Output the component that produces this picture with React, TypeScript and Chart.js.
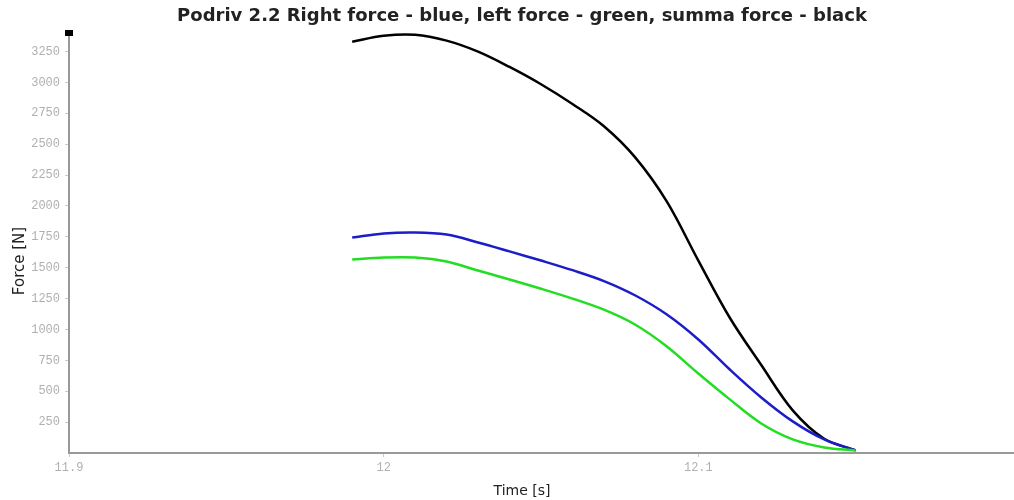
import React, { useEffect, useRef } from "react";
import { Chart, registerables } from "chart.js";

Chart.register(...registerables);

const times = [11.99, 12.0, 12.01, 12.02, 12.03, 12.04, 12.05, 12.06, 12.07, 12.08, 12.09, 12.1, 12.11, 12.12, 12.13, 12.14, 12.15];
const rightForce = [1744, 1777, 1785, 1768, 1704, 1632, 1558, 1480, 1392, 1275, 1121, 919, 676, 450, 256, 110, 21];
const leftForce = [1566, 1582, 1582, 1550, 1477, 1405, 1330, 1250, 1160, 1038, 862, 643, 434, 239, 110, 45, 21];
const summaForce = [3330, 3378, 3386, 3338, 3249, 3125, 2985, 2825, 2645, 2391, 2035, 1558, 1095, 712, 345, 115, 21];

const xTickValues = [11.9, 12.0, 12.1];
const xTickLabels = ["11.9", "12", "12.1"];
const yTickValues = [250, 500, 750, 1000, 1250, 1500, 1750, 2000, 2250, 2500, 2750, 3000, 3250];

const titleText = "Podriv 2.2 Right force - blue, left force - green, summa force - black";
const xTitle = "Time [s]";
const yTitle = "Force [N]";

const textPlugin = {
  id: "textPlugin",
  afterDraw(chart: any) {
    const ctx = chart.ctx;
    const a = chart.chartArea;
    ctx.save();
    ctx.fillStyle = "#000";
    ctx.fillRect(a.left - 4, a.top - 3, 8, 6);
    const cx = 522;
    ctx.fillStyle = "#222";
    ctx.textAlign = "center";
    ctx.textBaseline = "middle";
    ctx.font = "bold 18px 'DejaVu Sans', sans-serif";
    ctx.fillText(titleText, cx, 16);
    ctx.font = "14px 'DejaVu Sans', sans-serif";
    ctx.fillText(xTitle, cx, 491);
    ctx.translate(20, 261);
    ctx.rotate(-Math.PI / 2);
    ctx.font = "15px 'DejaVu Sans', sans-serif";
    ctx.fillText(yTitle, 0, 0);
    ctx.restore();
  },
};

export default function App() {
  const ref = useRef<HTMLCanvasElement | null>(null);
  useEffect(() => {
    if (!ref.current) return;
    const mk = (vals: number[]) => times.map((t, i) => ({ x: t, y: vals[i] }));
    const common = { pointRadius: 0, borderWidth: 2.5, tension: 0.35, fill: false };
    const chart = new Chart(ref.current, {
      type: "line",
      data: {
        datasets: [
          { label: "left", data: mk(leftForce), borderColor: "#22dd22", ...common },
          { label: "right", data: mk(rightForce), borderColor: "#1c1cc8", ...common },
          { label: "summa", data: mk(summaForce), borderColor: "#000000", ...common },
        ],
      },
      options: {
        animation: false,
        responsive: false,
        maintainAspectRatio: false,
        layout: { padding: { left: 0, right: 1, top: 33, bottom: 0 } },
        plugins: { legend: { display: false }, title: { display: false }, tooltip: { enabled: false } },
        scales: {
          x: {
            type: "linear",
            min: 11.9,
            max: 12.2,
            afterBuildTicks: (s: any) => {
              s.ticks = xTickValues.map((v) => ({ value: v }));
            },
            afterFit: (s: any) => {
              s.height = 47;
            },
            ticks: {
              autoSkip: false,
              maxRotation: 0,
              padding: 4,
              color: "#b0b0b0",
              font: { family: "'Liberation Mono', monospace", size: 12 },
              callback: (v: any) => {
                const i = xTickValues.findIndex((t) => Math.abs(t - v) < 1e-6);
                return i >= 0 ? xTickLabels[i] : "";
              },
            },
            grid: { display: true, drawOnChartArea: false, drawTicks: true, tickLength: 4, color: "#ccc" },
            border: { display: true, color: "#999", width: 2 },
          },
          y: {
            type: "linear",
            min: 0,
            max: 3400,
            afterBuildTicks: (s: any) => {
              s.ticks = yTickValues.map((v) => ({ value: v }));
            },
            afterFit: (s: any) => {
              s.width = 69;
            },
            ticks: {
              autoSkip: false,
              padding: 5,
              color: "#b0b0b0",
              font: { family: "'Liberation Mono', monospace", size: 12 },
              callback: (v: any) => String(v),
            },
            grid: { display: true, drawOnChartArea: false, drawTicks: true, tickLength: 4, color: "#ccc" },
            border: { display: true, color: "#999", width: 2 },
          },
        },
      },
      plugins: [textPlugin],
    });
    return () => chart.destroy();
  }, []);
  return (
    <div style={{ position: "absolute", left: 0, top: 0, width: 1014, height: 500, background: "#fff" }}>
      <canvas ref={ref} width={1014} height={500} style={{ width: 1014, height: 500, display: "block" }} />
    </div>
  );
}
